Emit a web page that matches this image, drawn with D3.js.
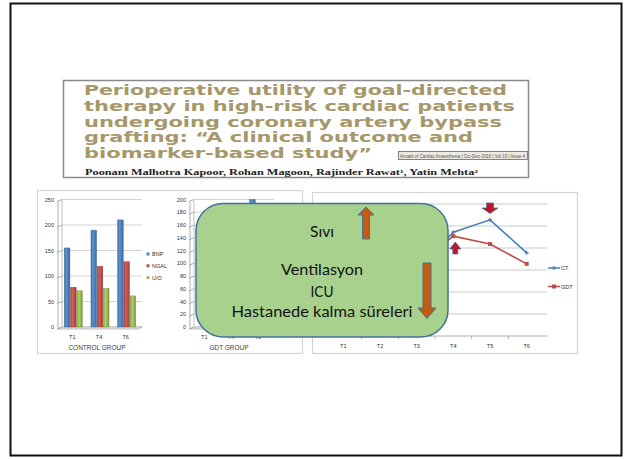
<!DOCTYPE html>
<html>
<head>
<meta charset="utf-8">
<script src="https://cdn.jsdelivr.net/npm/d3@7"></script>
<style>
  html, body { margin: 0; padding: 0; background: #fff; }
  svg { display: block; }
</style>
</head>
<body>
<svg id="slide" width="624" height="459"></svg>
<script>
// ---- Article header ----
const titleLines = [
  "Perioperative utility of goal-directed",
  "therapy in high-risk cardiac patients",
  "undergoing coronary artery bypass",
  "grafting: \u201CA clinical outcome and",
  "biomarker-based study\u201D"
];
const titleWidths = [423, 431, 418, 389, 288];
const authorsLine = "Poonam Malhotra Kapoor, Rohan Magoon, Rajinder Rawat\u00B9, Yatin Mehta\u00B2";
const journalStamp = "Annals of Cardiac Anaesthesia | Oct-Dec-2016 | Vol 19 | Issue 4";

// ---- Biomarker bar charts ----
const groupCategories = ["T1", "T4", "T6"];
const markerNames = ["BNP", "NGAL", "U/O"];
const controlBNP = [155, 190, 210];
const controlNGAL = [78, 119, 128];
const controlUO = [71, 76, 61];
const controlTicks = [0, 50, 100, 150, 200, 250];
const gdtBNP = [null, null, 200];
const gdtTicks = [0, 20, 40, 60, 80, 100, 120, 140, 160, 180, 200];

// ---- Time-course line chart ----
const timePoints = ["T1", "T2", "T3", "T4", "T5", "T6"];
const ctSeries = [null, null, 150, 236, 264, 189];
const gdtSeries = [null, null, 160, 227, 209, 164];
const lineTicks = [0, 50, 100, 150, 200, 250, 300];
const lineLegend = ["CT", "GDT"];

// ---- Summary callout ----
const calloutLines = ["S\u0131v\u0131", "Ventilasyon", "ICU", "Hastanede kalma s\u00FCreleri"];

const svg = d3.select("#slide");
const defs = svg.append("defs");

const barColors = { "BNP": "#4f81bd", "NGAL": "#c0504d", "U/O": "#9bbb59" };
Object.entries(barColors).forEach(([name, c], i) => {
  const g = defs.append("linearGradient").attr("id", "bar" + i)
    .attr("x1", 0).attr("x2", 1).attr("y1", 0).attr("y2", 0);
  const base = d3.color(c);
  g.append("stop").attr("offset", "0%").attr("stop-color", base.darker(0.5));
  g.append("stop").attr("offset", "35%").attr("stop-color", base.brighter(0.35));
  g.append("stop").attr("offset", "100%").attr("stop-color", base.darker(0.6));
});

// Slide frame
svg.append("rect").attr("x", 10.5).attr("y", 3.5).attr("width", 611).attr("height", 452)
  .attr("fill", "#fff").attr("stroke", "#111").attr("stroke-width", 2);

// ---- Header box ----
const header = svg.append("g");
header.append("rect").attr("x", 63.5).attr("y", 80.5).attr("width", 465).attr("height", 97)
  .attr("fill", "#fff").attr("stroke", "#8a8a8a").attr("stroke-width", 1.5);
header.selectAll("text.title").data(titleLines).join("text")
  .attr("class", "title")
  .attr("x", 84)
  .attr("y", (d, i) => 95 + i * 15.8)
  .attr("textLength", (d, i) => titleWidths[i])
  .attr("lengthAdjust", "spacingAndGlyphs")
  .attr("font-family", "DejaVu Sans")
  .attr("font-weight", "bold")
  .attr("font-size", 13.5)
  .attr("fill", "#a6986b")
  .text(d => d);
header.append("rect").attr("x", 398.5).attr("y", 151.5).attr("width", 129).attr("height", 8)
  .attr("fill", "#ece9e2").attr("stroke", "#666").attr("stroke-width", 0.8);
header.append("text").attr("x", 400).attr("y", 157.8)
  .attr("textLength", 125).attr("lengthAdjust", "spacingAndGlyphs")
  .attr("font-family", "Liberation Sans Narrow, Liberation Sans").attr("font-size", 5.5)
  .attr("fill", "#555").text(journalStamp);
header.append("text").attr("x", 85).attr("y", 174.5)
  .attr("textLength", 393).attr("lengthAdjust", "spacingAndGlyphs")
  .attr("font-family", "Liberation Serif").attr("font-weight", "bold").attr("font-size", 7.5)
  .attr("fill", "#222").text(authorsLine);

// ---- Left panel: bar charts ----
svg.append("rect").attr("x", 37.5).attr("y", 190.5).attr("width", 265).attr("height", 163)
  .attr("fill", "#fff").attr("stroke", "#d4d4d4").attr("stroke-width", 1.2);

const axisFont = "Liberation Sans";
function barChart(x0, ticks, yMax, seriesList, title) {
  const g = svg.append("g");
  const y = d3.scaleLinear().domain([0, yMax]).range([327, 199.5]);
  const x = d3.scaleBand().domain(groupCategories).range([x0, x0 + 80])
    .paddingInner(0.3).paddingOuter(0.15);
  const xs = d3.scaleBand().domain(markerNames).range([0, x.bandwidth()]);

  // back wall gridlines and side-wall ticks
  g.selectAll("line.grid").data(ticks).join("line")
    .attr("x1", x0 + 2).attr("x2", x0 + 82)
    .attr("y1", d => y(d)).attr("y2", d => y(d))
    .attr("stroke", "#c8c8c8").attr("stroke-width", 0.8);
  g.selectAll("line.tk").data(ticks).join("line")
    .attr("x1", x0 - 3).attr("x2", x0 + 2)
    .attr("y1", d => y(d) + 2).attr("y2", d => y(d))
    .attr("stroke", "#9a9a9a").attr("stroke-width", 0.8);
  g.append("line").attr("x1", x0 + 2).attr("x2", x0 + 2).attr("y1", y(yMax)).attr("y2", y(0))
    .attr("stroke", "#b0b0b0").attr("stroke-width", 0.8);
  g.append("line").attr("x1", x0 - 2).attr("x2", x0 - 2).attr("y1", y(yMax) + 2).attr("y2", y(0) + 2)
    .attr("stroke", "#9a9a9a").attr("stroke-width", 0.8);
  // floor
  g.append("path")
    .attr("d", `M${x0 - 2},${y(0) + 2}L${x0 + 2},${y(0)}L${x0 + 82},${y(0)}L${x0 + 78},${y(0) + 2}Z`)
    .attr("fill", "#ececec").attr("stroke", "#a0a0a0").attr("stroke-width", 0.7);
  // tick labels
  g.selectAll("text.yl").data(ticks).join("text")
    .attr("x", x0 - 6).attr("y", d => y(d) + 2)
    .attr("text-anchor", "end").attr("font-family", axisFont).attr("font-size", 5.5)
    .attr("fill", "#333").text(d => d);

  // bars
  seriesList.forEach((vals, si) => {
    g.selectAll(null).data(vals.map((v, i) => ({ v, c: groupCategories[i] })).filter(d => d.v != null))
      .join("rect")
      .attr("x", d => x(d.c) + xs(markerNames[si]) + 0.3)
      .attr("width", xs.bandwidth() - 0.6)
      .attr("y", d => y(d.v))
      .attr("height", d => y(0) - y(d.v))
      .attr("fill", `url(#bar${si})`)
      .attr("stroke", d3.color(barColors[markerNames[si]]).darker(0.8))
      .attr("stroke-width", 0.4);
  });

  g.selectAll("text.xl").data(groupCategories).join("text")
    .attr("x", d => x(d) + x.bandwidth() / 2 - 1).attr("y", 338.5)
    .attr("text-anchor", "middle").attr("font-family", axisFont).attr("font-size", 5.5)
    .attr("fill", "#333").text(d => d);
  g.append("text").attr("x", x0 + 37).attr("y", 350)
    .attr("text-anchor", "middle").attr("font-family", axisFont).attr("font-size", 6.5)
    .attr("fill", "#404040").text(title);
  return g;
}

barChart(60, controlTicks, 250, [controlBNP, controlNGAL, controlUO], "CONTROL GROUP");
barChart(192, gdtTicks, 200, [gdtBNP, [], []], "GDT GROUP");

// control chart legend
const lg = svg.append("g");
markerNames.forEach((n, i) => {
  lg.append("rect").attr("x", 146.5).attr("y", 252.5 + i * 11.8).attr("width", 3).attr("height", 3)
    .attr("fill", barColors[n]);
  lg.append("text").attr("x", 152).attr("y", 256.3 + i * 11.8)
    .attr("font-family", axisFont).attr("font-size", 5.5).attr("fill", "#333").text(n);
});

// ---- Right panel: line chart ----
svg.append("rect").attr("x", 312.5).attr("y", 192.5).attr("width", 265).attr("height", 161)
  .attr("fill", "#fff").attr("stroke", "#d4d4d4").attr("stroke-width", 1.2);

const lc = svg.append("g");
const lx = d3.scaleBand().domain(timePoints).range([325, 545]);
const ly = d3.scaleLinear().domain([0, 300]).range([336, 204]);
lc.selectAll("line.grid").data(lineTicks.slice(1)).join("line")
  .attr("x1", 320).attr("x2", 547).attr("y1", d => ly(d)).attr("y2", d => ly(d))
  .attr("stroke", "#c4c4c4").attr("stroke-width", 0.9);
lc.append("line").attr("x1", 320).attr("x2", 320).attr("y1", ly(300)).attr("y2", ly(0))
  .attr("stroke", "#999").attr("stroke-width", 0.8);
lc.selectAll("line.ytk").data(lineTicks).join("line")
  .attr("x1", 317).attr("x2", 320).attr("y1", d => ly(d)).attr("y2", d => ly(d))
  .attr("stroke", "#999").attr("stroke-width", 0.8);
lc.append("line").attr("x1", 320).attr("x2", 547).attr("y1", ly(0)).attr("y2", ly(0))
  .attr("stroke", "#999").attr("stroke-width", 0.8);
lc.selectAll("line.xtk").data(timePoints.slice(1)).join("line")
  .attr("x1", d => lx(d)).attr("x2", d => lx(d)).attr("y1", ly(0)).attr("y2", ly(0) + 3)
  .attr("stroke", "#999").attr("stroke-width", 0.8);
lc.selectAll("text.xl").data(timePoints).join("text")
  .attr("x", d => lx(d) + lx.bandwidth() / 2).attr("y", 348)
  .attr("text-anchor", "middle").attr("font-family", axisFont).attr("font-size", 5.5)
  .attr("fill", "#333").text(d => d);

const lineColors = { "CT": "#4a7ebb", "GDT": "#be4b48" };
const cx = t => lx(t) + lx.bandwidth() / 2;
[[ctSeries, "CT"], [gdtSeries, "GDT"]].forEach(([vals, name]) => {
  const pts = vals.map((v, i) => ({ t: timePoints[i], v }));
  const line = d3.line().defined(d => d.v != null).x(d => cx(d.t)).y(d => ly(d.v));
  lc.append("path").attr("d", line(pts)).attr("fill", "none")
    .attr("stroke", lineColors[name]).attr("stroke-width", 1.6);
  const shown = pts.filter(d => d.v != null);
  if (name === "CT") {
    lc.selectAll(null).data(shown).join("path")
      .attr("d", d => `M${cx(d.t) - 2},${ly(d.v)}H${cx(d.t) + 2}M${cx(d.t)},${ly(d.v) - 2}V${ly(d.v) + 2}`)
      .attr("stroke", lineColors[name]).attr("stroke-width", 1.2);
  } else {
    lc.selectAll(null).data(shown).join("rect")
      .attr("x", d => cx(d.t) - 2).attr("y", d => ly(d.v) - 2)
      .attr("width", 4).attr("height", 4).attr("fill", lineColors[name]);
  }
});

// line chart legend
lineLegend.forEach((n, i) => {
  const yy = 268 + i * 18.5;
  lc.append("line").attr("x1", 548).attr("x2", 560).attr("y1", yy).attr("y2", yy)
    .attr("stroke", lineColors[n]).attr("stroke-width", 1.5);
  if (n === "CT") {
    lc.append("path").attr("d", `M552,${yy}H556M554,${yy - 2}V${yy + 2}`)
      .attr("stroke", lineColors[n]).attr("stroke-width", 1.2);
  } else {
    lc.append("rect").attr("x", 552).attr("y", yy - 2).attr("width", 4).attr("height", 4)
      .attr("fill", lineColors[n]);
  }
  lc.append("text").attr("x", 561).attr("y", yy + 2)
    .attr("font-family", axisFont).attr("font-size", 5.5).attr("fill", "#333").text(n);
});

// block arrow helper: vertical arrow with tip at (x, tipY)
function blockArrow(x, tipY, dir, shaftW, headW, headH, length) {
  const s = dir === "up" ? 1 : -1;
  const hb = tipY + s * headH, end = tipY + s * length;
  return `M${x},${tipY}L${x + headW / 2},${hb}L${x + shaftW / 2},${hb}L${x + shaftW / 2},${end}` +
         `L${x - shaftW / 2},${end}L${x - shaftW / 2},${hb}L${x - headW / 2},${hb}Z`;
}

// red markers on the time course: drop at T5, rise at T4
lc.append("path").attr("d", blockArrow(cx("T5"), 213.5, "down", 7, 16, 5.5, 10.5))
  .attr("fill", "#c0142c").attr("stroke", "#41719c").attr("stroke-width", 0.8);
lc.append("path").attr("d", blockArrow(cx("T4") + 2, 242, "up", 5, 11, 7, 12))
  .attr("fill", "#c0142c").attr("stroke", "#41719c").attr("stroke-width", 0.8);

// ---- Summary callout ----
const callout = svg.append("g");
callout.append("rect").attr("x", 196).attr("y", 203.5).attr("width", 252).attr("height", 133.5)
  .attr("rx", 27).attr("ry", 27)
  .attr("fill", "#a9d18e").attr("stroke", "#41719c").attr("stroke-width", 1.5);
const calloutY = [237, 275, 297, 317];
const calloutW = [24, 82, 23, 181];
callout.selectAll("text").data(calloutLines).join("text")
  .attr("x", 322).attr("y", (d, i) => calloutY[i])
  .attr("text-anchor", "middle")
  .attr("textLength", (d, i) => calloutW[i]).attr("lengthAdjust", "spacingAndGlyphs")
  .attr("font-family", "Lato").attr("font-size", 16).attr("fill", "#111")
  .text(d => d);
callout.append("path").attr("d", blockArrow(366, 207, "up", 7, 16, 8, 32))
  .attr("fill", "#c55a11").attr("stroke", "#41719c").attr("stroke-width", 1);
callout.append("path").attr("d", blockArrow(427, 318.5, "down", 8, 18, 10.5, 55.5))
  .attr("fill", "#c55a11").attr("stroke", "#41719c").attr("stroke-width", 1);
</script>
</body>
</html>
